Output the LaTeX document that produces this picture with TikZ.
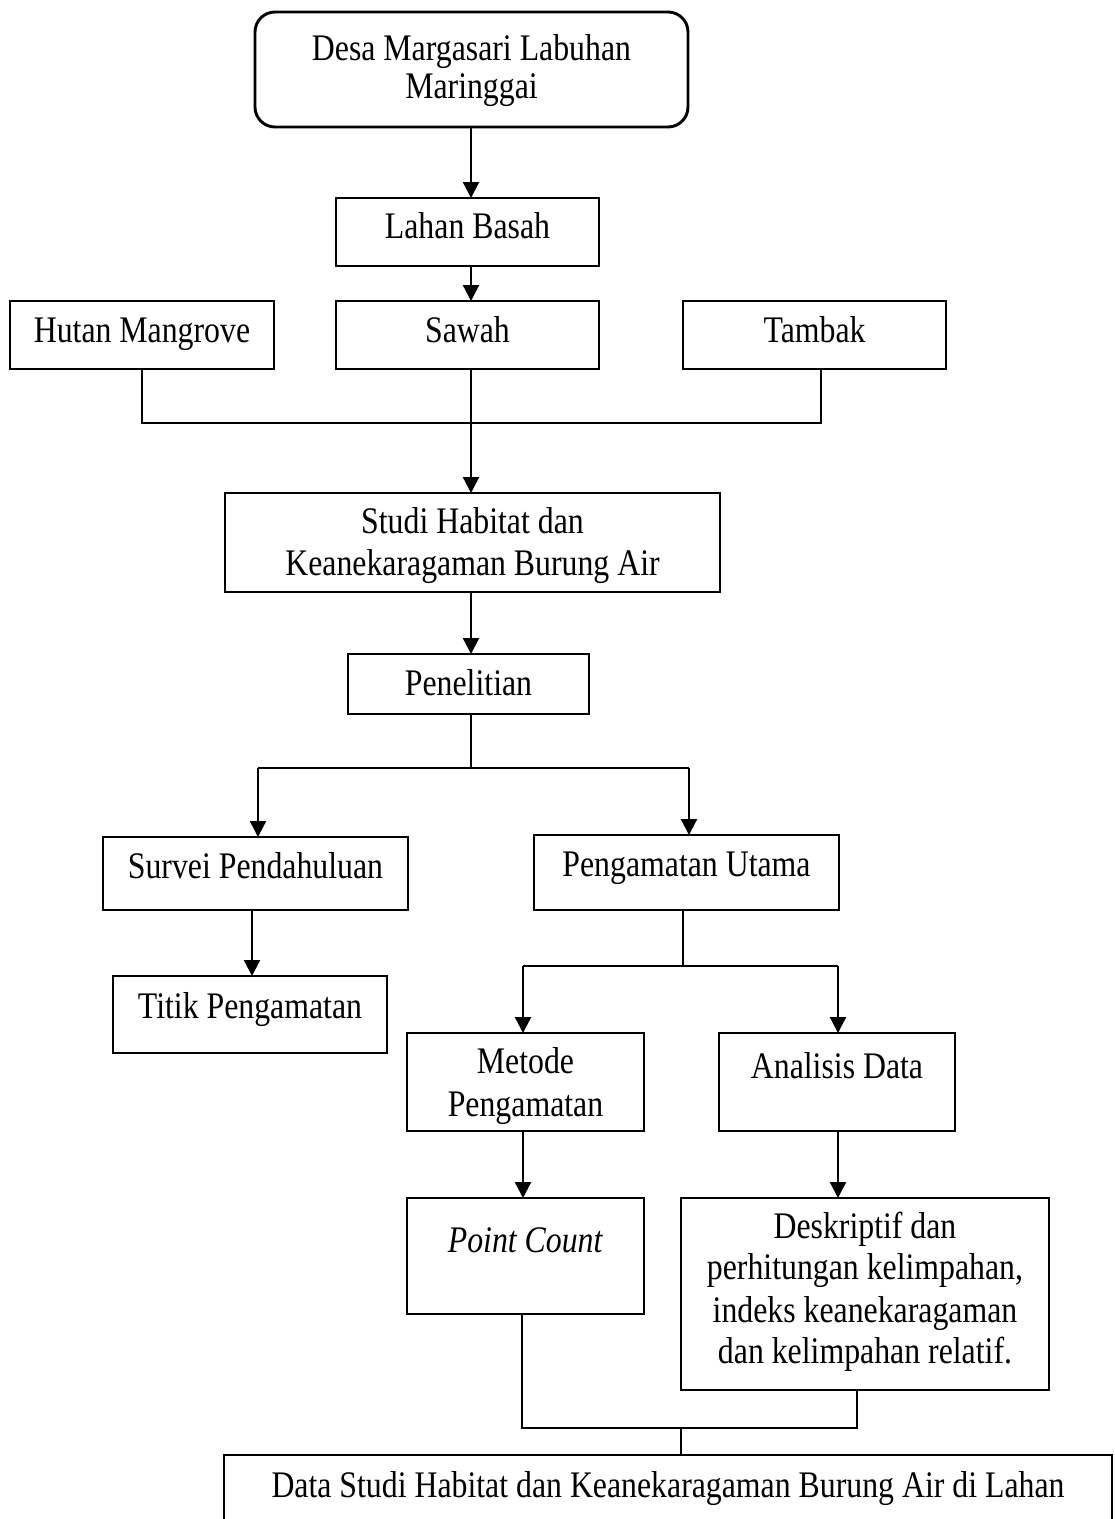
\documentclass[tikz,border=0pt]{standalone}
\usepackage{fontspec}
\setmainfont{Liberation Serif}[FakeStretch=0.848]
\usetikzlibrary{arrows.meta}
\begin{document}
\begin{tikzpicture}[x=1pt,y=-1pt,
  box/.style={draw, line width=2.9pt, inner sep=0pt, outer sep=0pt},
  txt/.style={anchor=base, inner sep=0pt, font=\fontsize{37.5}{42}\selectfont},
  arr/.style={line width=2.3pt, -{Triangle[length=16pt,width=16pt]}},
  thinline/.style={line width=1.3pt},
  midline/.style={line width=2pt}]
\path[use as bounding box, clip] (0,0) rectangle (1115,1519);
\fill[white] (0,0) rectangle (1115,1519);

% boxes
\node[box, rounded corners=20pt, minimum width=433pt, minimum height=115pt] (desa) at (471.5,69.5) {};
\node[box, minimum width=263pt, minimum height=68pt] (lahan) at (467.5,232) {};
\node[box, minimum width=264pt, minimum height=68pt] (hutan) at (142,335) {};
\node[box, minimum width=263pt, minimum height=68pt] (sawah) at (467.5,335) {};
\node[box, minimum width=263pt, minimum height=68pt] (tambak) at (814.5,335) {};
\node[box, minimum width=495pt, minimum height=99pt] (studi) at (472.5,542.5) {};
\node[box, minimum width=241pt, minimum height=60pt] (penel) at (468.5,684) {};
\node[box, minimum width=305pt, minimum height=73pt] (survei) at (255.5,873.5) {};
\node[box, minimum width=305pt, minimum height=75pt] (pu) at (686.5,872.5) {};
\node[box, minimum width=274pt, minimum height=77pt] (titik) at (250,1014.5) {};
\node[box, minimum width=237pt, minimum height=98pt] (metode) at (525.5,1082) {};
\node[box, minimum width=236pt, minimum height=98pt] (analisis) at (837,1082) {};
\node[box, minimum width=237pt, minimum height=116pt] (pc) at (525.5,1256) {};
\node[box, minimum width=368pt, minimum height=192pt] (desk) at (865,1294) {};
\node[box, minimum width=888pt, minimum height=125pt] (hasil) at (668,1517.5) {};

% texts
\node[txt] (tdesa1) at (471.5,60) {Desa Margasari Labuhan};
\node[txt] (tdesa2) at (471.5,98) {Maringgai};
\node[txt] (tlahan) at (467.5,238) {Lahan Basah};
\node[txt] (thutan) at (142,342) {Hutan Mangrove};
\node[txt] (tsawah) at (467.5,342) {Sawah};
\node[txt] (ttambak) at (814.5,342) {Tambak};
\node[txt] (tstudi1) at (472.5,533) {Studi Habitat dan};
\node[txt] (tstudi2) at (472.5,575) {Keanekaragaman Burung Air};
\node[txt] (tpenel) at (468.5,695) {Penelitian};
\node[txt] (tsurvei) at (255.5,878) {Survei Pendahuluan};
\node[txt] (tpu) at (686.5,876) {Pengamatan Utama};
\node[txt] (ttitik) at (250,1018) {Titik Pengamatan};
\node[txt] (tmetode1) at (525.5,1073) {Metode};
\node[txt] (tmetode2) at (525.5,1116) {Pengamatan};
\node[txt] (tanalisis) at (837,1078) {Analisis Data};
\node[txt] (tpc) at (525.5,1252) {\textit{Point Count}};
\node[txt] (tdesk1) at (865,1238) {Deskriptif dan};
\node[txt] (tdesk2) at (865,1279) {perhitungan kelimpahan,};
\node[txt] (tdesk3) at (865,1322) {indeks keanekaragaman};
\node[txt] (tdesk4) at (865,1363) {dan kelimpahan relatif.};
\node[txt] (thasil) at (668,1497) {Data Studi Habitat dan Keanekaragaman Burung Air di Lahan};

% x positions of connectors
\coordinate (xA) at (471,0);
\coordinate (xT) at (821,0);
\coordinate (xL) at (258,0);
\coordinate (xR) at (689,0);
\coordinate (xS) at (252,0);
\coordinate (xM) at (523,0);
\coordinate (xN) at (838,0);
\coordinate (xP) at (522,0);
\coordinate (xD) at (857,0);
% junctions
\coordinate (j1) at (471,423);
\coordinate (j2) at (471,768);
\coordinate (j3) at (683,966);
\coordinate (j4) at (681,1428);

% connectors
\draw[arr] (desa.south -| xA) -- (lahan.north -| xA);
\draw[arr] (lahan.south -| xA) -- (sawah.north -| xA);
\draw[thinline] (hutan.south) -- (hutan.south |- j1) -- (j1 -| xT) -- (tambak.south -| xT);
\draw[arr] (sawah.south -| xA) -- (studi.north -| xA);
\draw[arr] (studi.south -| xA) -- (penel.north -| xA);
\draw[thinline] (penel.south -| xA) -- (j2);
\draw[midline] (j2 -| xL) -- (j2 -| xR);
\draw[arr] (j2 -| xL) -- (survei.north -| xL);
\draw[arr] (j2 -| xR) -- (pu.north -| xR);
\draw[arr] (survei.south -| xS) -- (titik.north -| xS);
\draw[thinline] (pu.south -| j3) -- (j3);
\draw[midline] (j3 -| xM) -- (j3 -| xN);
\draw[arr] (j3 -| xM) -- (metode.north -| xM);
\draw[arr] (j3 -| xN) -- (analisis.north -| xN);
\draw[arr] (metode.south -| xM) -- (pc.north -| xM);
\draw[arr] (analisis.south -| xN) -- (desk.north -| xN);
\draw[midline] (pc.south -| xP) -- (j4 -| xP) -- (j4 -| xD) -- (desk.south -| xD);
\draw[midline] (j4) -- (hasil.north -| j4);
\end{tikzpicture}
\end{document}
